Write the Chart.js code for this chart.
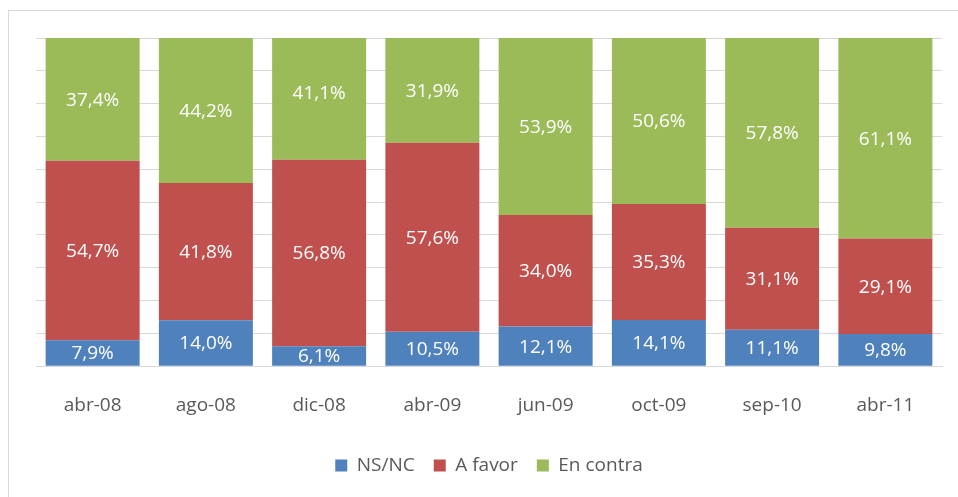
<!DOCTYPE html>
<html>
<head>
<meta charset="utf-8">
<script src="https://cdn.jsdelivr.net/npm/chart.js@4"></script>
<style>
    html, body { margin: 0; padding: 0; background: #fff; }
    #wrap { position: relative; width: 958px; height: 497px; }
    #frame {
        position: absolute; left: 8px; top: 10px; right: 0; bottom: 0;
        border-left: 1px solid #d9d9d9; border-top: 1px solid #d9d9d9;
    }
    canvas { position: absolute; left: 0; top: 0; }
</style>
</head>
<body>
<div id="wrap">
    <div id="frame"></div>
    <canvas id="chart" width="958" height="497"></canvas>
</div>
<script>
const categories = ['abr-08', 'ago-08', 'dic-08', 'abr-09', 'jun-09', 'oct-09', 'sep-10', 'abr-11'];
const nsnc = [7.9, 14.0, 6.1, 10.5, 12.1, 14.1, 11.1, 9.8];
const aFavor = [54.7, 41.8, 56.8, 57.6, 34.0, 35.3, 31.1, 29.1];
const enContra = [37.4, 44.2, 41.1, 31.9, 53.9, 50.6, 57.8, 61.1];

const FONT = '"Open Sans", Lato, sans-serif';

// Draw the value labels in the middle of each segment
const segmentLabels = {
    id: 'segmentLabels',
    afterDatasetsDraw(chart) {
        const ctx = chart.ctx;
        ctx.save();
        ctx.fillStyle = '#ffffff';
        ctx.font = '19px ' + FONT;
        ctx.textAlign = 'center';
        ctx.textBaseline = 'middle';
        chart.data.datasets.forEach((ds, i) => {
            chart.getDatasetMeta(i).data.forEach((bar, j) => {
                const { x, y, base } = bar.getProps(['x', 'y', 'base'], true);
                const text = ds.data[j].toFixed(1).replace('.', ',') + '%';
                ctx.fillText(text, x, (y + base) / 2 + 1);
            });
        });
        ctx.restore();
    }
};

new Chart(document.getElementById('chart'), {
    type: 'bar',
    data: {
        labels: categories,
        datasets: [
            { label: 'NS/NC', data: nsnc, backgroundColor: '#4f81bd' },
            { label: 'A favor', data: aFavor, backgroundColor: '#c0504d' },
            { label: 'En contra', data: enContra, backgroundColor: '#9bbb59' }
        ]
    },
    options: {
        responsive: false,
        animation: false,
        layout: { padding: { left: 36, right: 16, top: 38, bottom: 12 } },
        datasets: { bar: { categoryPercentage: 1, barPercentage: 0.83 } },
        plugins: {
            tooltip: { enabled: false },
            legend: {
                position: 'bottom',
                labels: {
                    color: '#595959',
                    font: { family: FONT, size: 19 },
                    boxWidth: 12,
                    boxHeight: 12,
                    padding: 19
                }
            }
        },
        scales: {
            x: {
                stacked: true,
                grid: { display: false },
                border: { display: true, color: '#d9d9d9' },
                ticks: { color: '#595959', font: { family: FONT, size: 19 }, padding: 20 }
            },
            y: {
                stacked: true,
                min: 0,
                max: 100,
                grid: { color: '#d9d9d9', drawTicks: false },
                border: { display: false },
                ticks: { display: false, stepSize: 10 }
            }
        }
    },
    plugins: [segmentLabels]
});
</script>
</body>
</html>
